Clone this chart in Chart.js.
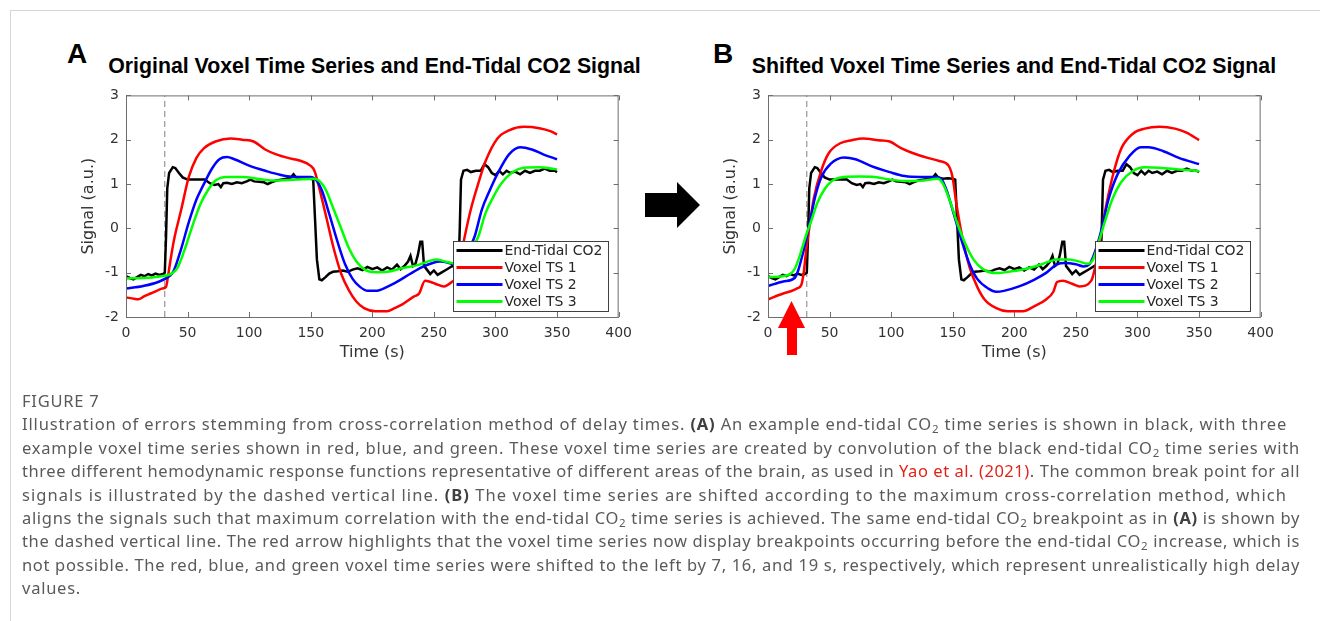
<!DOCTYPE html>
<html>
<head>
<meta charset="utf-8">
<script src="https://cdn.jsdelivr.net/npm/chart.js@4.4.1/dist/chart.umd.min.js"></script>
<style>
  body { margin: 0; width: 1320px; height: 621px; background: #fff; position: relative; overflow: hidden; }
  .frame-top { position: absolute; left: 10px; top: 10px; width: 1310px; height: 1px; background: #d6d6d6; }
  .frame-left { position: absolute; left: 10px; top: 10px; width: 1px; height: 611px; background: #d6d6d6; }
  .letter { position: absolute; top: 40px; font: bold 28px/28px "Liberation Sans", Arial, sans-serif; color: #000; }
  .title { position: absolute; top: 56px; font: bold 21.3px/21px "Liberation Sans", Arial, sans-serif; color: #000; white-space: nowrap; transform: translateX(-50%); }
  canvas { position: absolute; }
  svg { position: absolute; left: 0; top: 0; }
  .caption { position: absolute; left: 22px; top: 389px; font: 16.5px/23.4px "Noto Sans", sans-serif; color: #5a5a5a; white-space: nowrap; }
  .caption div span.line { display: inline-block; }
  .caption b { color: #404040; }
  .caption sub { font-size: 11.5px; vertical-align: -3px; line-height: 0; }
  .caption .ref { color: #e2231a; }
</style>
</head>
<body>
<div class="frame-top"></div>
<div class="frame-left"></div>

<div class="letter" style="left:67px">A</div>
<div class="title" style="left:374.5px">Original Voxel Time Series and End-Tidal CO2 Signal</div>
<div class="letter" style="left:713px">B</div>
<div class="title" style="left:1014px">Shifted Voxel Time Series and End-Tidal CO2 Signal</div>

<canvas id="chartA" width="580" height="286" style="left:60px;top:80px"></canvas>
<canvas id="chartB" width="580" height="286" style="left:702px;top:80px"></canvas>

<svg width="1320" height="621">
  <polygon points="645,193 677,193 677,182 700,205 677,228 677,217 645,217" fill="#000"/>
  <polygon points="787,355 797,355 797,328 805,328 791.5,301 778,328 787,328" fill="#f00"/>
</svg>

<!-- data-w: width of each full caption line as measured on the reference -->
<div class="caption">
  <div><span class="line">FIGURE 7</span></div>
  <div><span class="line" data-w="1265">Illustration of errors stemming from cross-correlation method of delay times. <b>(A)</b> An example end-tidal CO<sub>2</sub> time series is shown in black, with three</span></div>
  <div><span class="line" data-w="1278">example voxel time series shown in red, blue, and green. These voxel time series are created by convolution of the black end-tidal CO<sub>2</sub> time series with</span></div>
  <div><span class="line" data-w="1278">three different hemodynamic response functions representative of different areas of the brain, as used in <span class="ref">Yao et al. (2021)</span>. The common break point for all</span></div>
  <div><span class="line" data-w="1265">signals is illustrated by the dashed vertical line. <b>(B)</b> The voxel time series are shifted according to the maximum cross-correlation method, which</span></div>
  <div><span class="line" data-w="1278">aligns the signals such that maximum correlation with the end-tidal CO<sub>2</sub> time series is achieved. The same end-tidal CO<sub>2</sub> breakpoint as in <b>(A)</b> is shown by</span></div>
  <div><span class="line" data-w="1278">the dashed vertical line. The red arrow highlights that the voxel time series now display breakpoints occurring before the end-tidal CO<sub>2</sub> increase, which is</span></div>
  <div><span class="line" data-w="1278">not possible. The red, blue, and green voxel time series were shifted to the left by 7, 16, and 19 s, respectively, which represent unrealistically high delay</span></div>
  <div><span class="line">values.</span></div>
</div>

<script>
// common breakpoint (s)
const breakTime = 31.5;

const seriesLabels = ['End-Tidal CO2', 'Voxel TS 1', 'Voxel TS 2', 'Voxel TS 3'];
const seriesColors = ['#000000', '#ff0000', '#0000ff', '#00ff00'];

// [time (s), signal (a.u.)]
const etco2 = [[0,-1.08],[3,-1.12],[6,-1.15],[9,-1.1],[12,-1.05],[15,-1.08],[18,-1.03],[21,-1.06],[24,-1.02],[27,-1.05],
  [30,-1.03],[31.5,-1.0],[32.5,-0.2],[33.5,0.9],[35,1.25],[38,1.38],[40,1.36],[43,1.25],[46,1.15],[50,1.1],[55,1.1],
  [60,1.1],[64,1.1],[68,1.02],[72,0.98],[75,1.0],[77,0.93],[79,1.02],[82,1.03],[86,1.0],[90,1.04],[94,1.02],[98,1.06],
  [101,1.1],[104,1.06],[108,1.05],[112,1.04],[115,1.0],[118,1.04],[122,1.08],[126,1.1],[130,1.12],[134,1.15],[136,1.22],
  [138,1.15],[142,1.12],[146,1.13],[150,1.12],[152,1.1],[153.5,0.2],[155,-0.7],[157,-1.15],[159,-1.17],[162,-1.1],
  [165,-1.02],[168,-0.98],[172,-0.97],[176,-0.95],[180,-0.98],[184,-0.93],[188,-0.9],[192,-0.94],[196,-0.87],[200,-0.92],
  [204,-0.88],[208,-0.95],[212,-0.88],[216,-0.93],[220,-0.82],[223,-0.92],[226,-0.85],[229,-0.75],[231,-0.62],[233,-0.85],
  [235,-0.8],[237,-0.6],[239,-0.3],[240.5,-0.3],[242,-0.85],[244,-0.92],[247,-1.03],[250,-0.95],[253,-1.05],[256,-1.0],
  [259,-0.95],[262,-0.9],[265,-0.85],[268,-0.9],[270,-0.9],[271,0.0],[272,1.1],[274,1.3],[277,1.32],[280,1.27],[284,1.3],
  [288,1.3],[291,1.45],[294,1.38],[297,1.25],[300,1.2],[303,1.3],[306,1.22],[309,1.3],[312,1.25],[316,1.28],[320,1.22],
  [324,1.3],[328,1.25],[332,1.3],[336,1.3],[340,1.35],[344,1.3],[348,1.3],[350,1.27]];

const ts1Original = [[0,-1.56],[5,-1.58],[10,-1.6],[15,-1.53],[20,-1.47],[25,-1.41],[29,-1.36],[32.5,-1.32],[34,-1.1],
  [35.6,-0.81],[38.7,-0.3],[44.9,0.43],[51,1.16],[57.2,1.59],[63.4,1.81],[72.7,1.96],[85,2.03],[94.4,2.0],[103.6,1.96],
  [113,1.78],[122,1.67],[131.5,1.59],[140.8,1.53],[150,1.41],[153,1.3],[156,1.01],[162.4,0.28],[168.6,-0.45],[174.8,-1.03],
  [181,-1.4],[187,-1.65],[193.3,-1.8],[202.6,-1.87],[212,-1.87],[218,-1.8],[224,-1.72],[233.6,-1.54],[238,-1.47],
  [242.8,-1.18],[247.5,-1.21],[252,-1.26],[258,-1.31],[264.5,-1.21],[268,-1.1],[271,-0.75],[275,-0.19],[280,0.43],
  [286,1.01],[292,1.52],[301.6,2.03],[311,2.21],[323,2.29],[335.6,2.26],[345,2.19],[350,2.12]];

const ts2Original = [[0,-1.36],[14,-1.3],[26,-1.21],[35.6,-1.07],[38.7,-0.96],[44.9,-0.45],[51,0.14],[57.2,0.65],
  [63.4,1.01],[69.6,1.34],[75.8,1.56],[82,1.61],[88,1.56],[100.5,1.41],[113,1.3],[125,1.21],[137.7,1.16],[150,1.16],
  [154.7,1.08],[159,0.86],[165.5,0.28],[171.7,-0.3],[177.9,-0.81],[184,-1.14],[190,-1.32],[196.4,-1.41],[202.6,-1.41],
  [212,-1.32],[221,-1.19],[230.5,-1.03],[240,-0.88],[249,-0.78],[255,-0.75],[264.5,-0.8],[271,-0.85],[276,-0.6],
  [283,-0.19],[289,0.43],[295.4,0.86],[301.6,1.23],[311,1.67],[320,1.83],[329.5,1.78],[338.7,1.67],[350,1.56]];

const ts3Original = [[0,-1.13],[14,-1.12],[26,-1.09],[37,-1.02],[41.8,-0.89],[48,-0.45],[54,0.06],[60.3,0.54],
  [66.5,0.86],[72.7,1.08],[82,1.16],[94.4,1.16],[106.7,1.12],[119,1.08],[137.7,1.1],[153,1.12],[157.8,1.05],[162.4,0.86],
  [168.6,0.43],[174.8,-0.01],[181,-0.45],[187,-0.74],[193.3,-0.92],[202.6,-0.99],[212,-0.98],[224,-0.9],[236.7,-0.83],
  [246,-0.74],[252,-0.7],[258,-0.74],[264.5,-0.78],[272,-0.8],[277,-0.65],[282,-0.4],[286,-0.19],[292,0.35],[298.5,0.72],
  [304.7,1.01],[314,1.27],[323,1.37],[335.6,1.38],[345,1.35],[350,1.33]];

const ts1Shifted = [[0,-1.6],[12.4,-1.47],[18.5,-1.42],[24,-1.35],[27,-1.28],[29,-1.0],[31,-0.5],[34,0.1],[37,0.65],
  [43.2,1.3],[49.4,1.7],[58.7,1.92],[68,1.99],[77,2.03],[89.6,1.99],[98.8,1.96],[108,1.81],[117.4,1.7],[129.7,1.59],
  [139,1.52],[146.7,1.41],[149.8,1.16],[152.9,0.57],[157.5,-0.16],[163.7,-0.88],[169.9,-1.32],[176,-1.61],[185.3,-1.8],
  [194.6,-1.87],[207,-1.87],[216,-1.76],[225.5,-1.61],[231.7,-1.43],[234.7,-1.21],[239.4,-1.18],[247,-1.25],[253,-1.31],
  [262.5,-1.18],[265.6,-0.88],[270.3,-0.16],[275,0.57],[281,1.3],[287,1.81],[296.5,2.14],[305.8,2.25],[318,2.29],
  [330.5,2.25],[339.8,2.16],[350,1.99]];

const ts2Shifted = [[0,-1.3],[12.4,-1.2],[21.6,-1.12],[24.5,-0.95],[28,-0.6],[31,-0.25],[34,0.15],[38.6,0.75],
  [43.2,1.15],[51,1.46],[61.8,1.6],[71,1.56],[83.4,1.41],[98.8,1.27],[111,1.18],[123.6,1.16],[136,1.16],[140.5,1.12],
  [145,0.86],[151.3,0.28],[157.5,-0.3],[163.7,-0.81],[169.9,-1.14],[179,-1.36],[185.3,-1.43],[191.5,-1.41],[203.9,-1.31],
  [216,-1.16],[225.5,-1.01],[234.7,-0.81],[241,-0.78],[250,-0.81],[256.4,-0.86],[261,-0.81],[265.6,-0.52],[270.3,-0.08],
  [276.4,0.65],[284,1.23],[293.4,1.63],[302.7,1.83],[309,1.83],[321,1.74],[333.6,1.59],[350,1.45]];

const ts3Shifted = [[0,-1.1],[12,-1.08],[18,-1.03],[22,-0.9],[26,-0.6],[31,-0.15],[35.5,0.2],[40,0.57],[46.3,0.9],
  [52.5,1.08],[61.8,1.16],[74,1.17],[86.5,1.16],[98.8,1.1],[111,1.07],[126.6,1.08],[137.5,1.12],[142,1.01],[148.3,0.57],
  [154.4,0.06],[160.6,-0.37],[166.8,-0.7],[174.5,-0.92],[185.3,-1.01],[197.7,-0.97],[210,-0.91],[222.4,-0.81],
  [234.7,-0.7],[244,-0.7],[253,-0.75],[259.5,-0.8],[264,-0.7],[268.7,-0.3],[273.4,0.14],[279.5,0.65],[287,1.05],
  [296.5,1.3],[305.8,1.38],[318,1.37],[333.6,1.33],[350,1.29]];

const xTicks = [0, 50, 100, 150, 200, 250, 300, 350, 400];
const yTicks = [-2, -1, 0, 1, 2, 3];

const toPoints = arr => arr.map(([t, v]) => ({ x: t, y: v }));

// stretch each full caption line to its reference width; short lines get the average spacing
const captionLines = [...document.querySelectorAll('.caption .line')];
const spacings = [];
captionLines.filter(el => el.dataset.w).forEach(el => {
  const natural = el.getBoundingClientRect().width;
  const sp = (+el.dataset.w - natural) / el.textContent.length;
  spacings.push(sp);
  el.style.letterSpacing = sp.toFixed(3) + 'px';
});
const avgSpacing = spacings.reduce((a, b) => a + b, 0) / spacings.length;
captionLines.filter(el => !el.dataset.w).forEach(el => {
  el.style.letterSpacing = avgSpacing.toFixed(3) + 'px';
});

// MATLAB-style box with inward ticks, plus the legend inside the axes
const boxPlugin = {
  id: 'matlabBox',
  afterDraw(chart) {
    const { ctx, chartArea: a, scales: { x, y } } = chart;
    ctx.save();
    ctx.strokeStyle = '#6e6e6e';
    ctx.lineWidth = 1;
    ctx.strokeRect(a.left + 0.5, a.top + 0.5, a.width - 1, a.height);
    ctx.beginPath();
    xTicks.forEach(v => {
      const px = Math.round(x.getPixelForValue(v)) + 0.5;
      ctx.moveTo(px, a.bottom); ctx.lineTo(px, a.bottom - 5);
      ctx.moveTo(px, a.top); ctx.lineTo(px, a.top + 5);
    });
    yTicks.forEach(v => {
      const py = Math.round(y.getPixelForValue(v)) + 0.5;
      ctx.moveTo(a.left, py); ctx.lineTo(a.left + 5, py);
      ctx.moveTo(a.right, py); ctx.lineTo(a.right - 5, py);
    });
    ctx.stroke();

    // legend
    const bw = 155, bh = 70;
    const bx = Math.round(a.right - 11 - bw) + 0.5;
    const by = Math.round(a.top + 146) + 0.5;
    ctx.fillStyle = '#fff';
    ctx.fillRect(bx, by, bw, bh);
    ctx.strokeStyle = '#404040';
    ctx.strokeRect(bx, by, bw, bh);
    ctx.font = '14px "DejaVu Sans"';
    ctx.textBaseline = 'middle';
    ctx.fillStyle = '#262626';
    chart.data.datasets.filter(d => d.label).forEach((d, i) => {
      const ry = by + 9 + i * 17;
      ctx.strokeStyle = d.borderColor;
      ctx.lineWidth = 3;
      ctx.beginPath();
      ctx.moveTo(bx + 3, ry); ctx.lineTo(bx + 49, ry);
      ctx.stroke();
      ctx.fillText(d.label, bx + 51, ry + 1);
    });
    ctx.restore();
  }
};

function makeChart(id, voxelSeries) {
  const series = [etco2, ...voxelSeries];
  const datasets = series.map((s, i) => ({
    label: seriesLabels[i],
    data: toPoints(s),
    borderColor: seriesColors[i],
    borderWidth: 2.5,
    pointRadius: 0,
    cubicInterpolationMode: i === 0 ? 'default' : 'monotone',
    tension: 0,
    order: 4 - i
  }));
  datasets.push({
    label: '',
    data: [{ x: breakTime, y: -2 }, { x: breakTime, y: 3 }],
    borderColor: '#808080',
    borderWidth: 1,
    borderDash: [6, 4],
    pointRadius: 0,
    order: 10
  });

  const tickFont = { family: 'DejaVu Sans', size: 14 };
  const titleFont = { family: 'DejaVu Sans', size: 16 };
  return new Chart(document.getElementById(id), {
    type: 'line',
    data: { datasets },
    options: {
      responsive: false,
      animation: false,
      devicePixelRatio: 1,
      layout: { padding: { left: 15, right: 18, top: 9, bottom: 0 } },
      plugins: { legend: { display: false }, tooltip: { enabled: false } },
      scales: {
        x: {
          type: 'linear', min: 0, max: 400,
          afterFit: s => { s.height = 49; },
          grid: { display: false, drawTicks: false },
          border: { display: false },
          ticks: { stepSize: 50, font: tickFont, color: '#333', padding: 8, maxRotation: 0 },
          title: { display: true, text: 'Time (s)', font: titleFont, color: '#333' }
        },
        y: {
          type: 'linear', min: -2, max: 3,
          afterFit: s => { s.width = 51; },
          grid: { display: false, drawTicks: false },
          border: { display: false },
          ticks: { stepSize: 1, font: tickFont, color: '#333', padding: 7 },
          title: { display: true, text: 'Signal (a.u.)', font: titleFont, color: '#333' }
        }
      }
    },
    plugins: [boxPlugin]
  });
}

makeChart('chartA', [ts1Original, ts2Original, ts3Original]);
makeChart('chartB', [ts1Shifted, ts2Shifted, ts3Shifted]);
</script>
</body>
</html>
